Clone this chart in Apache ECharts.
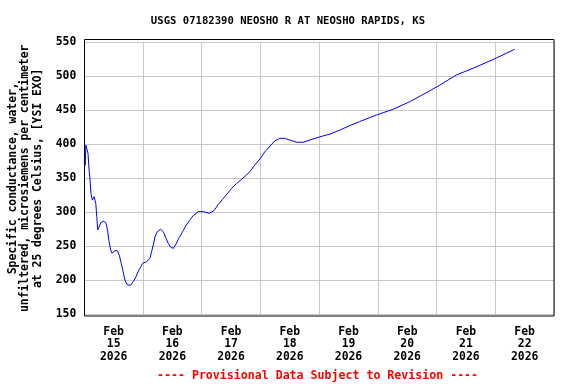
<!DOCTYPE html>
<html>
<head>
<meta charset="utf-8">
<script src="https://cdn.jsdelivr.net/npm/echarts@6/dist/echarts.min.js"></script>
<style>html,body{margin:0;padding:0;background:#fff}#c{width:576px;height:384px}</style>
</head>
<body>
<div id="c"></div>
<script>
// Hours since Feb 15 2026 00:00
var hours = [0.4,0.6,1.0,1.5,1.9,2.3,2.7,3.3,4.0,4.7,5.1,5.5,6.0,6.8,8.0,8.9,9.6,10.1,10.8,11.4,12.4,13.5,14.3,15.1,15.9,16.6,17.6,19.0,20.0,21.1,22.3,23.9,25.5,26.8,27.5,28.2,28.9,29.8,31.2,32.3,33.4,34.3,35.3,36.4,37.5,38.8,40.2,41.5,42.9,44.5,46.6,48.6,51.1,53.0,54.7,56.5,58.4,60.2,62.3,64.0,67.7,69.7,71.8,73.8,75.9,77.9,79.9,81.9,84.0,86.8,89.5,92.2,96.3,100.4,104.5,108.5,112.6,119.4,126.2,133.0,139.9,145.3,152.1,158.9,168.5,175.9];
var conductance = [369,399,396.5,387,365,350,328,318,323,313,293.5,274,271.5,285,287,284,271.5,257,244.5,239.7,243.5,243.5,237,225,212.6,200.4,193,193,198,205,215,225,227.4,232,242,252,264,271.5,275,271.5,261.8,254.4,248.5,247,253.4,263,271.5,280,287.6,295,301,301,298.5,302.4,311,319,327,335.3,342.6,347.5,359.7,369.6,378.4,389,397.5,405,408.8,408.8,406.3,403,403,406.3,411,415,421,427.4,433.5,443,451.5,462.6,476,487,502,511.8,527,539.7];
var dayLabels = ['Feb\n15\n2026','Feb\n16\n2026','Feb\n17\n2026','Feb\n18\n2026','Feb\n19\n2026','Feb\n20\n2026','Feb\n21\n2026','Feb\n22\n2026'];
var titleText = 'USGS 07182390 NEOSHO R AT NEOSHO RAPIDS, KS';
var yTitle = 'Specific conductance, water,\nunfiltered, microsiemens per centimeter\nat 25 degrees Celsius, [YSI EXO]';
var footText = '---- Provisional Data Subject to Revision ----';

var FONT = '"DejaVu Sans Mono", monospace';
var chart = echarts.init(document.getElementById('c'), null, {renderer: 'canvas'});
var pts = hours.map(function(h, i){ return [h, conductance[i]]; });

chart.setOption({
  animation: false,
  backgroundColor: '#ffffff',
  title: [
    {text: titleText, left: 'center', top: 16, padding: 0,
     textStyle: {fontFamily: FONT, fontWeight: 'bold', fontSize: 10.6, color: '#000'}},
    {text: footText, left: 157, top: 369.5, padding: 0,
     textStyle: {fontFamily: FONT, fontWeight: 'bold', fontSize: 11.6, color: '#ff0000'}}
  ],
  grid: {left: 84.3, right: 22, top: 42.3, bottom: 69.7, containLabel: false, outerBoundsMode: 'none'},
  xAxis: [
    {type: 'value', min: 0, max: 192, interval: 24,
     axisLine: {show: false}, axisTick: {show: false}, axisLabel: {show: false},
     splitLine: {show: true, lineStyle: {color: '#c8c8c8', width: 1}}},
    {type: 'category', data: dayLabels, boundaryGap: true, position: 'bottom',
     axisLine: {show: false}, axisTick: {show: false}, splitLine: {show: false},
     axisLabel: {margin: 11, fontFamily: FONT, fontWeight: 'bold', fontSize: 11.4, lineHeight: 12.7, color: '#000', interval: 0}}
  ],
  yAxis: {
    type: 'value', min: 150, max: 550, interval: 50,
    axisLine: {show: false}, axisTick: {show: false},
    axisLabel: {margin: 8, fontFamily: FONT, fontWeight: 'bold', fontSize: 11.4, color: '#000'},
    splitLine: {show: true, lineStyle: {color: '#c8c8c8', width: 1}},
    name: yTitle, nameLocation: 'middle', nameRotate: 90, nameGap: 40,
    nameTextStyle: {fontFamily: FONT, fontWeight: 'bold', fontSize: 11.4, lineHeight: 12.7, color: '#000', align: 'center'}
  },
  graphic: [
    {type: 'rect', z: 100, silent: true,
     shape: {x: 84.5, y: 39.5, width: 469.5, height: 276.5},
     style: {fill: 'none', stroke: '#000', lineWidth: 1}}
  ],
  series: [{
    type: 'line', xAxisIndex: 0, data: pts, showSymbol: false, symbol: 'none',
    lineStyle: {color: '#0000ff', width: 1}, z: 10
  }]
});
</script>
</body>
</html>
